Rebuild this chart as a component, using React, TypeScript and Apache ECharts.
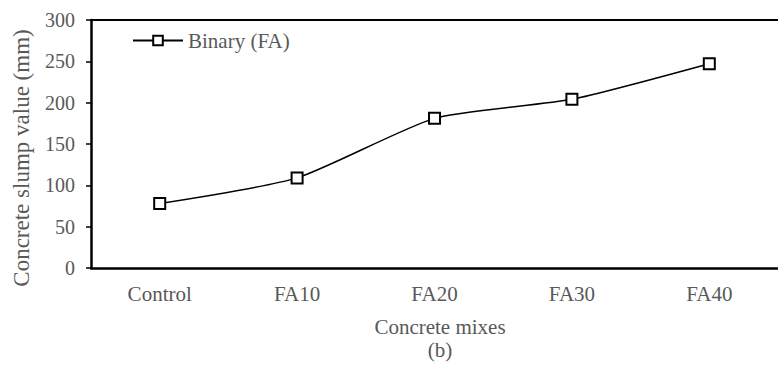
import React, { useEffect, useRef } from "react";
import * as echarts from "echarts";

const categories = ["Control", "FA10", "FA20", "FA30", "FA40"];
const slumpValues = [78, 109, 181, 204, 247];
const yTicks = { min: 0, max: 300, interval: 50 };
const seriesName = "Binary (FA)";
const xTitle = "Concrete mixes";
const yTitle = "Concrete slump value (mm)";
const panelLabel = "(b)";

const textColor = "#595959";
const fontFamily = "Liberation Serif";

export default function App() {
  const ref = useRef<HTMLDivElement>(null);

  useEffect(() => {
    if (!ref.current) return;
    const chart = echarts.init(ref.current, undefined, { renderer: "svg" });
    chart.setOption({
      animation: false,
      backgroundColor: "#ffffff",
      textStyle: { fontFamily },
      grid: { left: 91, right: -10, top: 20, bottom: 97, containLabel: false },
      legend: {
        left: 127,
        top: 25,
        itemWidth: 50,
        itemHeight: 12,
        itemGap: 4,
        textStyle: { color: textColor, fontSize: 21, fontFamily },
        data: [seriesName],
      },
      graphic: [
        {
          type: "text",
          x: 440,
          y: 327,
          style: {
            text: xTitle,
            fill: textColor,
            fontSize: 21,
            fontFamily,
            align: "center",
            verticalAlign: "middle",
          },
        },
        {
          type: "text",
          x: 440,
          y: 350,
          style: {
            text: panelLabel,
            fill: textColor,
            fontSize: 21,
            fontFamily,
            align: "center",
            verticalAlign: "middle",
          },
        },
        {
          type: "text",
          x: 21,
          y: 158,
          rotation: Math.PI / 2,
          style: {
            text: yTitle,
            fill: textColor,
            fontSize: 23,
            fontFamily,
            align: "center",
            verticalAlign: "middle",
          },
        },
      ],
      xAxis: [
        {
          type: "category",
          data: categories,
          boundaryGap: true,
          axisLine: { lineStyle: { color: "#000", width: 2.5 } },
          axisTick: { alignWithLabel: true, length: 5, lineStyle: { color: "#000", width: 1.5 } },
          axisLabel: { color: textColor, fontSize: 21, margin: 15, fontFamily },
        },
        {
          type: "category",
          position: "top",
          data: categories,
          axisLine: { lineStyle: { color: "#000", width: 2 } },
          axisTick: { show: false },
          axisLabel: { show: false },
        },
      ],
      yAxis: {
        type: "value",
        min: yTicks.min,
        max: yTicks.max,
        interval: yTicks.interval,
        splitLine: { show: false },
        axisLine: { show: true, lineStyle: { color: "#000", width: 2.5 } },
        axisTick: { show: true, length: 5, lineStyle: { color: "#000", width: 1.5 } },
        axisLabel: { color: textColor, fontSize: 20, margin: 16, fontFamily },
      },
      series: [
        {
          name: seriesName,
          type: "line",
          data: slumpValues,
          smooth: 0.2,
          symbol: "rect",
          symbolSize: 11,
          lineStyle: { color: "#000", width: 1.5 },
          itemStyle: { color: "#fff", borderColor: "#000", borderWidth: 2 },
        },
      ],
    });
    return () => chart.dispose();
  }, []);

  return (
    <div
      ref={ref}
      style={{ position: "fixed", left: 0, top: 0, width: 778, height: 365 }}
    />
  );
}
